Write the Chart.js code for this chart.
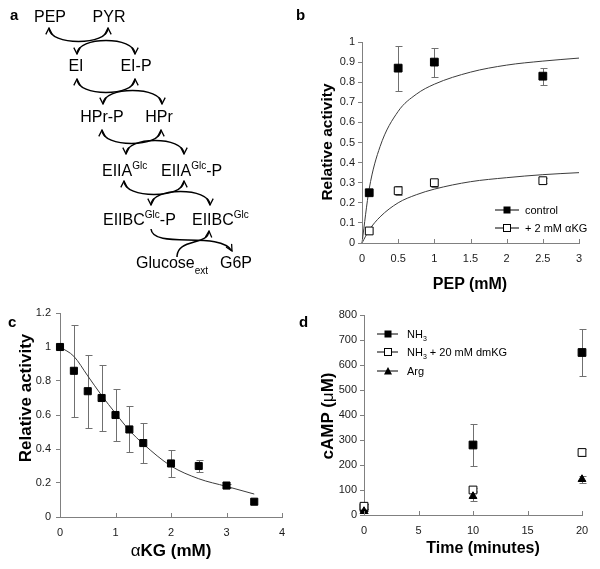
<!DOCTYPE html>
<html>
<head>
<meta charset="utf-8">
<script src="https://cdn.jsdelivr.net/npm/chart.js@4/dist/chart.umd.min.js"></script>
<style>
  body { margin: 0; background: #fff; }
  #page { position: relative; width: 600px; height: 569px; overflow: hidden; }
  canvas { position: absolute; }
  #overlay { position: absolute; left: 0; top: 0; pointer-events: none; }
</style>
</head>
<body>
<div id="page">
  <canvas id="chartB" width="300" height="300" style="left:300px;top:0"></canvas>
  <canvas id="chartC" width="300" height="269" style="left:0;top:300px"></canvas>
  <canvas id="chartD" width="300" height="269" style="left:300px;top:300px"></canvas>

  <svg id="overlay" width="600" height="569" font-family="Liberation Sans, Arial, sans-serif">
    <defs>
      <marker id="head" viewBox="0 0 10 10" refX="9" refY="5" markerWidth="8" markerHeight="8"
              markerUnits="userSpaceOnUse" orient="auto-start-reverse">
        <path d="M1,1 L9,5 L1,9" fill="none" stroke="#000" stroke-width="1.6"/>
      </marker>
    </defs>

    <!-- panel letters -->
    <g font-weight="bold" font-size="15">
      <text x="10" y="20">a</text>
      <text x="296" y="20">b</text>
      <text x="8" y="327">c</text>
      <text x="299" y="327">d</text>
    </g>

    <!-- panel a: PTS phosphorelay -->
    <g font-size="16">
      <text x="50" y="22" text-anchor="middle">PEP</text>
      <text x="109" y="22" text-anchor="middle">PYR</text>
      <text x="76" y="71" text-anchor="middle">EI</text>
      <text x="136" y="71" text-anchor="middle">EI-P</text>
      <text x="102" y="122" text-anchor="middle">HPr-P</text>
      <text x="159" y="122" text-anchor="middle">HPr</text>
      <text x="102" y="176">EIIA<tspan font-size="10" dy="-7">Glc</tspan></text>
      <text x="161" y="176">EIIA<tspan font-size="10" dy="-7">Glc</tspan><tspan dy="7">-P</tspan></text>
      <text x="103" y="225">EIIBC<tspan font-size="10" dy="-7">Glc</tspan><tspan dy="7">-P</tspan></text>
      <text x="192" y="225">EIIBC<tspan font-size="10" dy="-7">Glc</tspan></text>
      <text x="136" y="268">Glucose<tspan font-size="10" dy="6">ext</tspan></text>
      <text x="220" y="268">G6P</text>
    </g>
    <g fill="none" stroke="#000" stroke-width="1.5" marker-start="url(#head)" marker-end="url(#head)">
      <path d="M49,28 C49,46 108,46 108,28"/>
      <path d="M77,54 C77,36 135,36 135,54"/>
      <path d="M77,79 C77,97 135,97 135,79"/>
      <path d="M103,104 C103,86 162,86 162,104"/>
      <path d="M102,130 C102,148 161,148 161,130"/>
      <path d="M126,154 C126,136 184,136 184,154"/>
      <path d="M124,181 C124,199 184,199 184,181"/>
      <path d="M151,205 C151,187 210,187 210,205"/>
    </g>
    <g fill="none" stroke="#000" stroke-width="1.5" marker-end="url(#head)">
      <path d="M151,229 C153,250 220,230 232,251"/>
      <path d="M177,257 C177,238 208,246 209,231"/>
    </g>

    <!-- axis titles -->
    <g font-weight="bold" text-anchor="middle">
      <text font-size="15.5" transform="translate(332,142) rotate(-90)">Relative activity</text>
      <text font-size="16" x="470" y="289">PEP (mM)</text>
      <text font-size="17" transform="translate(31,398) rotate(-90)">Relative activity</text>
      <text font-size="17" x="171" y="556"><tspan font-weight="normal">α</tspan>KG (mM)</text>
      <text font-size="17" transform="translate(333,416) rotate(-90)">cAMP (<tspan font-weight="normal">μ</tspan>M)</text>
      <text font-size="16" x="483" y="553">Time (minutes)</text>
    </g>

    <!-- legend b -->
    <g font-size="11">
      <line x1="495" y1="210" x2="519" y2="210" stroke="#000"/>
      <rect x="503.5" y="206.5" width="7" height="7" fill="#000"/>
      <text x="525" y="214">control</text>
      <line x1="495" y1="228" x2="519" y2="228" stroke="#000"/>
      <rect x="503.5" y="224.5" width="7" height="7" fill="#fff" stroke="#000"/>
      <text x="525" y="232">+ 2 mM αKG</text>
    </g>

    <!-- legend d -->
    <g font-size="11">
      <line x1="377" y1="334" x2="398" y2="334" stroke="#000"/>
      <rect x="384.5" y="330.5" width="7" height="7" fill="#000"/>
      <text x="407" y="338">NH<tspan font-size="7" dy="3">3</tspan></text>
      <line x1="377" y1="352" x2="398" y2="352" stroke="#000"/>
      <rect x="384.5" y="348.5" width="7" height="7" fill="#fff" stroke="#000"/>
      <text x="407" y="356">NH<tspan font-size="7" dy="3">3</tspan><tspan dy="-3"> + 20 mM dmKG</tspan></text>
      <line x1="377" y1="371" x2="398" y2="371" stroke="#000"/>
      <polygon points="388,367 392,374.5 384,374.5" fill="#000"/>
      <text x="407" y="375">Arg</text>
    </g>
  </svg>
</div>

<script>
// ---- panel b: PEP dependence ----
const pepX = [0.1, 0.5, 1, 2.5];
const controlY = [0.25, 0.87, 0.90, 0.83];
const controlErr = [0, 0.112, 0.072, 0.042];
const akgY = [0.06, 0.26, 0.30, 0.31];
const akgErr = [0, 0.022, 0.02, 0.012];
const pepFitX = [0, 0.1, 0.25, 0.5, 0.75, 1, 1.5, 2, 2.5, 3];
const controlFit = [0, 0.27, 0.48, 0.655, 0.74, 0.79, 0.85, 0.885, 0.905, 0.92];
const akgFit = [0, 0.065, 0.13, 0.2, 0.24, 0.268, 0.305, 0.325, 0.34, 0.35];
const pepTicks = [0, 0.5, 1, 1.5, 2, 2.5, 3];
const activityTicksB = [0, 0.1, 0.2, 0.3, 0.4, 0.5, 0.6, 0.7, 0.8, 0.9, 1];

// ---- panel c: aKG inhibition ----
const akgConc = [0, 0.25, 0.5, 0.75, 1, 1.25, 1.5, 2, 2.5, 3, 3.5];
const inhibY = [1.0, 0.86, 0.74, 0.70, 0.60, 0.515, 0.435, 0.315, 0.30, 0.185, 0.09];
const inhibErr = [0, 0.27, 0.215, 0.195, 0.155, 0.135, 0.115, 0.08, 0.035, 0.012, 0];
const inhibFit = [1.0, 0.945, 0.83, 0.715, 0.61, 0.51, 0.43, 0.30, 0.225, 0.18, 0.135];
const akgTicks = [0, 1, 2, 3, 4];
const activityTicksC = [0, 0.2, 0.4, 0.6, 0.8, 1, 1.2];

// ---- panel d: cAMP time course ----
const timeMin = [0, 10, 20];
const nh3Y = [30, 280, 650];
const nh3Err = [15, 83, 95];
const dmkgY = [35, 100, 250];
const dmkgErr = [10, 8, 15];
const argY = [15, 75, 143];
const argErr = [8, 20, 15];
const timeTicks = [0, 5, 10, 15, 20];
const campTicks = [0, 100, 200, 300, 400, 500, 600, 700, 800];

const axisGray = '#808080';
const tickFont = { family: 'Liberation Sans, Arial, sans-serif', size: 11 };

const pts = (xs, ys) => xs.map((x, i) => ({ x, y: ys[i] }));

// error bars under the markers, and x tick marks drawn inside the plot like Excel
const errorBars = {
  id: 'errorBars',
  beforeDatasetsDraw(chart) {
    const ctx = chart.ctx, ys = chart.scales.y;
    ctx.save();
    ctx.strokeStyle = '#707070';
    ctx.lineWidth = 1;
    chart.data.datasets.forEach((ds, i) => {
      if (!ds.errors) return;
      chart.getDatasetMeta(i).data.forEach((pt, j) => {
        const e = ds.errors[j];
        if (!e) return;
        const v = ds.data[j].y;
        const top = Math.round(ys.getPixelForValue(v + e)) + 0.5;
        const bot = Math.round(ys.getPixelForValue(v - e)) + 0.5;
        const x = Math.round(pt.x) + 0.5;
        ctx.beginPath();
        ctx.moveTo(x, top); ctx.lineTo(x, bot);
        ctx.moveTo(x - 3, top); ctx.lineTo(x + 4, top);
        ctx.moveTo(x - 3, bot); ctx.lineTo(x + 4, bot);
        ctx.stroke();
      });
    });
    ctx.restore();
  },
  afterDraw(chart) {
    const ctx = chart.ctx, xs = chart.scales.x, b = chart.chartArea.bottom;
    ctx.save();
    ctx.strokeStyle = axisGray;
    ctx.lineWidth = 1;
    xs.ticks.forEach(t => {
      const x = Math.round(xs.getPixelForValue(t.value)) + 0.5;
      ctx.beginPath();
      ctx.moveTo(x, b); ctx.lineTo(x, b - 4);
      ctx.stroke();
    });
    ctx.restore();
  }
};

function panel(id, area, xRange, xTicks, yRange, yTicks, yPad, datasets) {
  const cv = document.getElementById(id);
  return new Chart(cv, {
    type: 'scatter',
    data: { datasets },
    plugins: [errorBars],
    options: {
      responsive: false,
      animation: false,
      layout: { padding: { left: 0, top: area.top, right: cv.width - area.right, bottom: 0 } },
      plugins: { legend: { display: false }, tooltip: { enabled: false } },
      scales: {
        x: {
          type: 'linear', min: xRange[0], max: xRange[1],
          afterBuildTicks: s => { s.ticks = xTicks.map(v => ({ value: v })); },
          afterFit: s => { s.height = cv.height - area.bottom; },
          ticks: { color: '#1a1a1a', font: tickFont, padding: 9, maxRotation: 0, callback: v => String(v) },
          grid: { drawOnChartArea: false, drawTicks: false, color: axisGray },
          border: { color: axisGray }
        },
        y: {
          type: 'linear', min: yRange[0], max: yRange[1],
          afterBuildTicks: s => { s.ticks = yTicks.map(v => ({ value: v })); },
          afterFit: s => { s.width = area.left; },
          ticks: { color: '#1a1a1a', font: tickFont, padding: yPad, callback: v => String(v) },
          grid: { drawOnChartArea: false, color: axisGray, tickLength: 4 },
          border: { color: axisGray }
        }
      }
    }
  });
}

const markers = (data, errors, style, fill, r) => ({
  data, errors, pointStyle: style, pointRadius: r, pointBorderWidth: 1,
  pointBackgroundColor: fill, pointBorderColor: '#000', showLine: false, clip: false
});
const fitLine = data => ({
  data, showLine: true, pointRadius: 0, borderColor: '#3c3c3c', borderWidth: 1,
  cubicInterpolationMode: 'monotone', clip: false
});

panel('chartB', { left: 62, top: 42, right: 279, bottom: 243 },
  [0, 3], pepTicks, [0, 1], activityTicksB, 3, [
    markers(pts(pepX, controlY), controlErr, 'rect', '#000', 5.5),
    markers(pts(pepX, akgY), akgErr, 'rect', '#fff', 5.5),
    fitLine(pts(pepFitX, controlFit)),
    fitLine(pts(pepFitX, akgFit))
  ]);

panel('chartC', { left: 60, top: 13, right: 282, bottom: 217 },
  [0, 4], akgTicks, [0, 1.2], activityTicksC, 5, [
    markers(pts(akgConc, inhibY), inhibErr, 'rect', '#000', 5),
    fitLine(pts(akgConc, inhibFit))
  ]);

panel('chartD', { left: 64, top: 15, right: 282, bottom: 215 },
  [0, 20], timeTicks, [0, 800], campTicks, 3, [
    markers(pts(timeMin, argY), argErr, 'triangle', '#000', 4.5),
    markers(pts(timeMin, dmkgY), dmkgErr, 'rect', '#fff', 5.5),
    markers(pts(timeMin, nh3Y), nh3Err, 'rect', '#000', 5.5)
  ]);
</script>
</body>
</html>
